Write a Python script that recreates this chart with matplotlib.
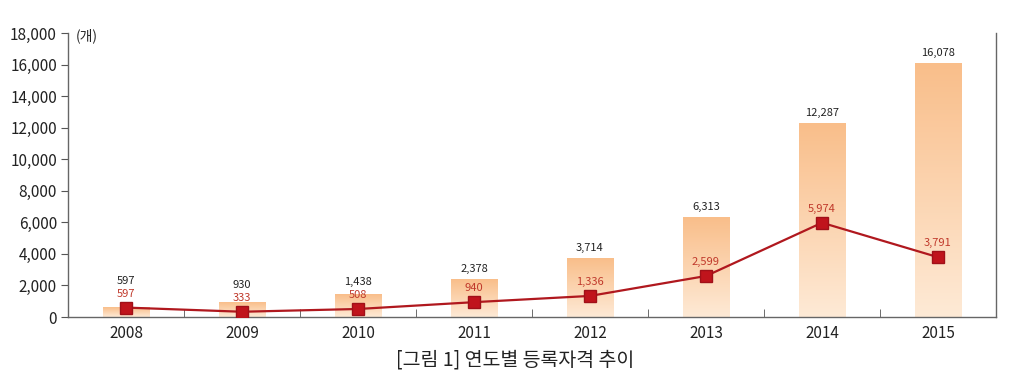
import numpy as np
import matplotlib.pyplot as plt
from matplotlib.colors import LinearSegmentedColormap

plt.rcParams['font.family'] = ['Noto Sans CJK KR', 'DejaVu Sans']

# data
years = ["2008", "2009", "2010", "2011", "2012", "2013", "2014", "2015"]
total = [597, 930, 1438, 2378, 3714, 6313, 12287, 16078]
new_reg = [597, 333, 508, 940, 1336, 2599, 5974, 3791]
yticks = [0, 2000, 4000, 6000, 8000, 10000, 12000, 14000, 16000, 18000]

fig = plt.figure(figsize=(10.24, 3.83), dpi=100)
ax = fig.add_axes([68 / 1024, 1 - 317 / 383, (996 - 68) / 1024, (317 - 33) / 383])

x = np.arange(len(years))
bw = 0.4
grad = LinearSegmentedColormap.from_list("bar", ["#FEEAD6", "#F9BE8A"])
g = np.linspace(0, 1, 256).reshape(-1, 1)
for xi, v in zip(x, total):
    ax.imshow(g, cmap=grad, origin="lower", aspect="auto",
              extent=[xi - bw / 2, xi + bw / 2, 0, v], zorder=1)

ax.plot(x, new_reg, color="#B0181E", lw=1.6, marker="s", ms=9,
        mfc="#C0141C", mec="#A01018", zorder=3)

px = 18000 / 284.0  # data units per pixel
for xi, v, n in zip(x, total, new_reg):
    ax.text(xi, n + 9 * px, f"{n:,}", ha="center", va="bottom",
            fontsize=8, color="#C0392B", zorder=4)
    base = max(v, n + 17 * px)
    ax.text(xi, base + 5 * px, f"{v:,}", ha="center", va="bottom",
            fontsize=8, color="#222222", zorder=4)

ax.set_xlim(-0.5, len(years) - 0.5)
ax.set_ylim(0, 18000)
ax.set_yticks(yticks)
ax.set_yticklabels([f"{t:,}" for t in yticks], fontsize=11, color="#222222")
ax.set_xticks(x)
ax.set_xticklabels(years, fontsize=11, color="#222222")
ax.tick_params(axis="x", length=0, pad=6)
ax.set_xticks(np.arange(0.5, len(years) - 1, 1), minor=True)
ax.tick_params(axis="x", which="minor", direction="in", length=6, color="#555555")
ax.tick_params(axis="y", direction="out", length=5, color="#555555", pad=3)

for s in ["left", "bottom", "right"]:
    ax.spines[s].set_color("#666666")
    ax.spines[s].set_linewidth(1.0)
ax.spines["top"].set_visible(False)

ax.text(0.008, 0.99, "(개)", transform=ax.transAxes, ha="left", va="center",
        fontsize=10, color="#222222")

fig.text(0.503, 1 - 360 / 383, "[그림 1] 연도별 등록자격 추이", ha="center", va="center",
         fontsize=14, color="#222222")

fig.savefig("out.png", dpi=100)
